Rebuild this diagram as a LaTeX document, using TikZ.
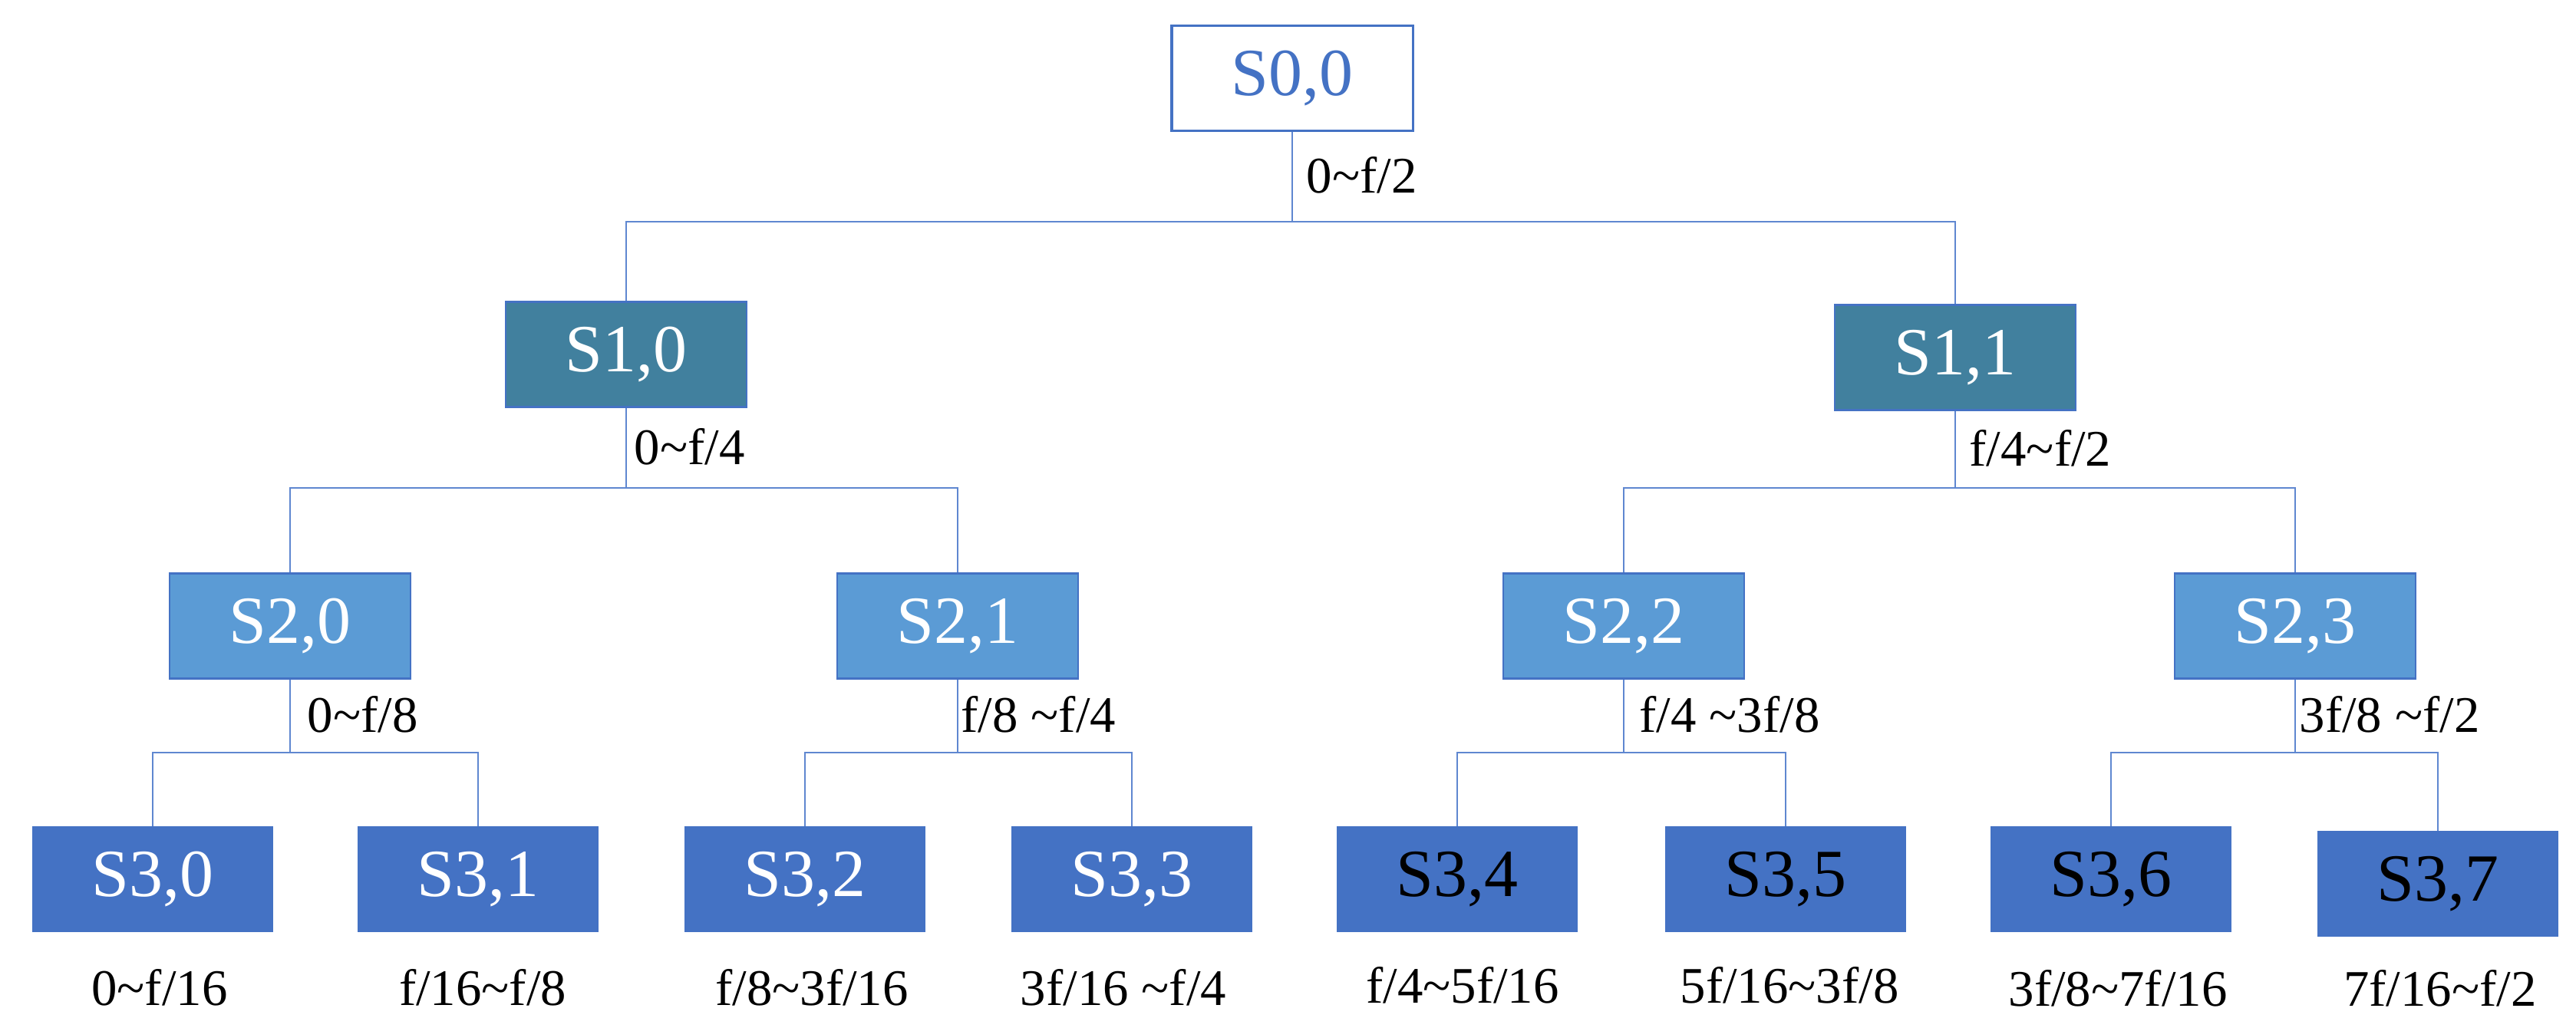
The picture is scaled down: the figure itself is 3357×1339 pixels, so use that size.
\documentclass[tikz,border=0pt]{standalone}
\usepackage{fontspec}
\setmainfont{Liberation Serif}
\definecolor{bblue}{HTML}{4472C4}
\definecolor{teal1}{HTML}{41809E}
\definecolor{lblue}{HTML}{5B9BD5}
\definecolor{conncol}{HTML}{5F87D0}
\tikzset{
  box/.style={rectangle, minimum width=3.14cm, minimum height=1.37cm, inner sep=0pt,
    font=\fontsize{25}{30}\selectfont},
  rootbox/.style={box, draw=bblue, line width=0.9pt, fill=white, text=bblue},
  lvlone/.style={box, draw=bblue, line width=0.6pt, fill=teal1, text=white},
  lvltwo/.style={box, draw=bblue, line width=0.7pt, fill=lblue, text=white},
  lvlthree/.style={box, fill=bblue, text=white},
  lvlthreeb/.style={box, fill=bblue, text=black},
  conn/.style={draw=conncol, line width=0.7pt},
  lbl/.style={font=\fontsize{19}{23}\selectfont, inner sep=0pt, anchor=west},
  blbl/.style={font=\fontsize{19}{23}\selectfont, inner sep=0pt}
}
\begin{document}
\begin{tikzpicture}[x=0.01cm, y=-0.01cm]
\useasboundingbox (0,0) rectangle (3357,1339);
% nodes
\node[rootbox] (s00) at (1684,102) {S0,0};
\node[lvlone] (s10) at (816,462) {S1,0};
\node[lvlone] (s11) at (2548,466) {S1,1};
\node[lvltwo] (s20) at (378,816) {S2,0};
\node[lvltwo] (s21) at (1248,816) {S2,1};
\node[lvltwo] (s22) at (2116,816) {S2,2};
\node[lvltwo] (s23) at (2991,816) {S2,3};
\node[lvlthree] (s30) at (199,1146) {S3,0};
\node[lvlthree] (s31) at (623,1146) {S3,1};
\node[lvlthree] (s32) at (1049,1146) {S3,2};
\node[lvlthree] (s33) at (1475,1146) {S3,3};
\node[lvlthreeb] (s34) at (1899,1146) {S3,4};
\node[lvlthreeb] (s35) at (2327,1146) {S3,5};
\node[lvlthreeb] (s36) at (2751,1146) {S3,6};
\node[lvlthreeb] (s37) at (3177,1152) {S3,7};
% branch points
\coordinate (b00) at (1684,289);
\coordinate (b10) at (816,636);
\coordinate (b11) at (2548,636);
\coordinate (b20) at (378,981);
\coordinate (b21) at (1248,981);
\coordinate (b22) at (2116,981);
\coordinate (b23) at (2991,981);
% connectors
\draw[conn] (s00.south) -- (b00);
\draw[conn] (s10.north) |- (b00) -| (s11.north);
\draw[conn] (s10.south) -- (b10);
\draw[conn] (s20.north) |- (b10) -| (s21.north);
\draw[conn] (s11.south) -- (b11);
\draw[conn] (s22.north) |- (b11) -| (s23.north);
\draw[conn] (s20.south) -- (b20);
\draw[conn] (s30.north) |- (b20) -| (s31.north);
\draw[conn] (s21.south) -- (b21);
\draw[conn] (s32.north) |- (b21) -| (s33.north);
\draw[conn] (s22.south) -- (b22);
\draw[conn] (s34.north) |- (b22) -| (s35.north);
\draw[conn] (s23.south) -- (b23);
\draw[conn] (s36.north) |- (b23) -| (s37.north);
% branch labels
\node[lbl] (l00) at (1702,228) {0\textasciitilde f/2};
\node[lbl] (l10) at (826,582) {0\textasciitilde f/4};
\node[lbl] (l11) at (2566,584) {f/4\textasciitilde f/2};
\node[lbl] (l20) at (400,931) {0\textasciitilde f/8};
\node[lbl] (l21) at (1252,931) {f/8 \textasciitilde f/4};
\node[lbl] (l22) at (2136,931) {f/4 \textasciitilde 3f/8};
\node[lbl] (l23) at (2996,931) {3f/8 \textasciitilde f/2};
% leaf labels
\node[blbl] (f30) at (208,1287) {0\textasciitilde f/16};
\node[blbl] (f31) at (629,1287) {f/16\textasciitilde f/8};
\node[blbl] (f32) at (1058,1287) {f/8\textasciitilde 3f/16};
\node[blbl] (f33) at (1464,1287) {3f/16 \textasciitilde f/4};
\node[blbl] (f34) at (1906,1284) {f/4\textasciitilde 5f/16};
\node[blbl] (f35) at (2332,1284) {5f/16\textasciitilde 3f/8};
\node[blbl] (f36) at (2760,1288) {3f/8\textasciitilde 7f/16};
\node[blbl] (f37) at (3180,1288) {7f/16\textasciitilde f/2};
\end{tikzpicture}
\end{document}
